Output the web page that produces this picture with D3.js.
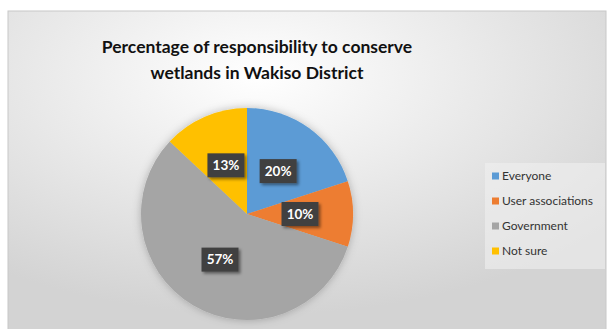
<!DOCTYPE html>
<html>
<head>
<meta charset="utf-8">
<script src="https://cdn.jsdelivr.net/npm/d3@7"></script>
<style>
  body { margin: 0; background: #fff; }
  svg { display: block; font-family: Lato, "Open Sans", sans-serif; }
</style>
</head>
<body>
<div id="chart"></div>
<script>
var categories = ["Everyone", "User associations", "Government", "Not sure"];
var values = [20, 10, 57, 13];
var colors = ["#5b9bd5", "#ed7d31", "#a5a5a5", "#ffc000"];
var titleLines = ["Percentage of responsibility to conserve", "wetlands in Wakiso District"];

var width = 610, height = 329;
var svg = d3.select("#chart").append("svg").attr("width", width).attr("height", height);

var defs = svg.append("defs");
var bg = defs.append("radialGradient").attr("id", "bg")
    .attr("cx", "42%").attr("cy", "20%").attr("r", "75%");
bg.append("stop").attr("offset", "0%").attr("stop-color", "#ffffff");
bg.append("stop").attr("offset", "100%").attr("stop-color", "#d3d3d3");

var sh = defs.append("filter").attr("id", "shadow").attr("x", "-30%").attr("y", "-30%").attr("width", "180%").attr("height", "180%");
sh.append("feDropShadow").attr("dx", 2).attr("dy", 2).attr("stdDeviation", 1.5).attr("flood-color", "#000").attr("flood-opacity", 0.45);

var pieShadow = defs.append("filter").attr("id", "pieshadow").attr("x", "-20%").attr("y", "-20%").attr("width", "140%").attr("height", "140%");
pieShadow.append("feDropShadow").attr("dx", 0).attr("dy", 0).attr("stdDeviation", 4).attr("flood-color", "#000").attr("flood-opacity", 0.25);

svg.append("rect").attr("x", 8).attr("y", 11).attr("width", 598).attr("height", 320)
    .attr("fill", "url(#bg)").attr("stroke", "#c8c8c8").attr("stroke-width", 1);

// title
svg.append("g").selectAll("text").data(titleLines).enter().append("text")
    .attr("x", 257).attr("y", function (d, i) { return 53 + i * 26; })
    .attr("text-anchor", "middle")
    .style("font-size", "17.5px").style("font-weight", "bold").style("fill", "#111")
    .text(function (d) { return d; });

// pie
var cx = 247, cy = 214, r = 106;
var pie = d3.pie().sort(null).value(function (d) { return d; });
var arcs = pie(values);
var arc = d3.arc().innerRadius(0).outerRadius(r);
var labelArc = d3.arc().innerRadius(r * 0.5).outerRadius(r * 0.5);

var g = svg.append("g").attr("transform", "translate(" + cx + "," + cy + ")");
g.append("g").attr("filter", "url(#pieshadow)").selectAll("path").data(arcs).enter().append("path")
    .attr("d", arc)
    .attr("fill", function (d, i) { return colors[i]; });

var labels = g.selectAll("g.lbl").data(arcs).enter().append("g").attr("class", "lbl")
    .attr("transform", function (d) {
        var c = labelArc.centroid(d);
        return "translate(" + c[0] + "," + c[1] + ")";
    });
labels.append("rect")
    .attr("x", -18.5).attr("y", -12).attr("width", 37).attr("height", 24)
    .attr("fill", "#404040").attr("filter", "url(#shadow)");
labels.append("text")
    .attr("text-anchor", "middle").attr("dy", "0.36em")
    .style("font-size", "13.5px").style("font-weight", "bold").style("fill", "#fff")
    .text(function (d) { return d.data + "%"; });

// legend
var legend = svg.append("g");
legend.append("rect").attr("x", 485).attr("y", 163).attr("width", 120).attr("height", 106)
    .attr("fill", "#f0f0f0").attr("opacity", 0.6);
var items = legend.selectAll("g.item").data(categories).enter().append("g").attr("class", "item")
    .attr("transform", function (d, i) { return "translate(492," + (176 + i * 25) + ")"; });
items.append("rect").attr("x", 0).attr("y", -3.5).attr("width", 7).attr("height", 7)
    .attr("fill", function (d, i) { return colors[i]; });
items.append("text").attr("x", 10).attr("dy", "0.35em")
    .style("font-size", "12px").style("fill", "#333")
    .text(function (d) { return d; });
</script>
</body>
</html>
